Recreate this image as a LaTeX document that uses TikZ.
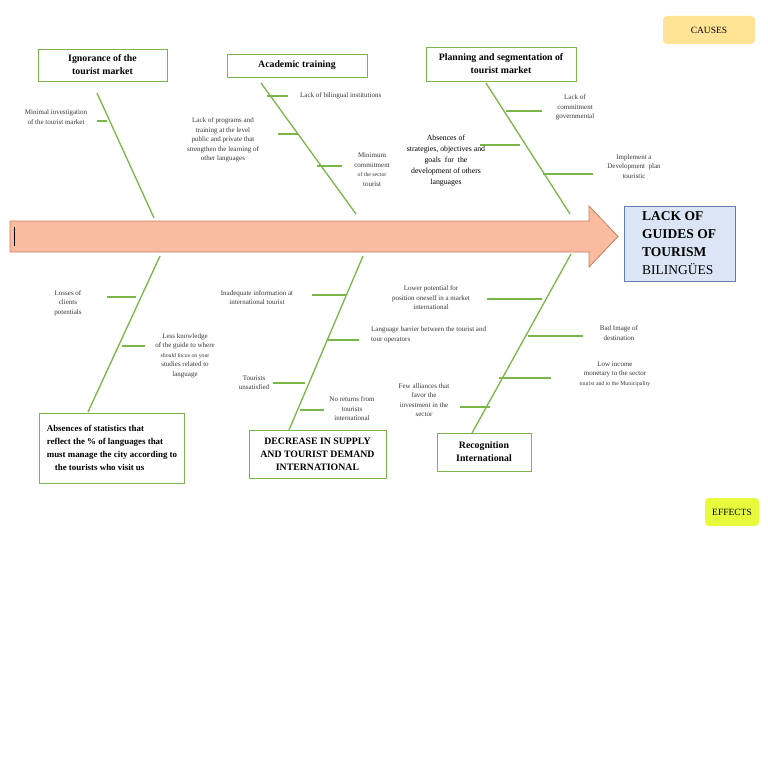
\documentclass[tikz,border=0pt]{standalone}
\usepackage{fontspec}
\setmainfont{Liberation Serif}

\begin{document}
\begin{tikzpicture}[x=1pt,y=-1pt,
  bone/.style={draw=kGreen,line width=1.3pt},
  tick/.style={draw=kGreen,line width=1.6pt},
  cause/.style={draw=kGreen,line width=0.9pt,align=center,inner sep=0pt,
                font=\fontsize{9.8}{13}\selectfont\bfseries},
  lbl/.style={align=center,inner sep=0pt,text=kText,font=\fontsize{7}{9.5}\selectfont},
  tag/.style={rounded corners=4pt,minimum width=#1,minimum height=28,inner sep=0pt,
              font=\fontsize{9.5}{11}\selectfont}]
  \definecolor{kGreen}{RGB}{122,182,72}
  \definecolor{kText}{RGB}{55,55,55}
  \definecolor{kSalmon}{RGB}{250,188,160}
  \definecolor{kSalmonD}{RGB}{205,125,95}
  \definecolor{kBlue}{RGB}{219,229,245}
  \definecolor{kBlueD}{RGB}{95,125,175}
  \definecolor{kCause}{RGB}{255,228,150}
  \definecolor{kEffect}{RGB}{232,250,60}

  \useasboundingbox[fill=white] (0,0) rectangle (768,762);

  % legend
  \node[tag=92,fill=kCause] (causes) at (709,30) {CAUSES};
  \node[tag=54,fill=kEffect] (effects) at (732,512) {EFFECTS};

  % spine
  \draw[fill=kSalmon,draw=kSalmonD,line width=0.8pt]
    (10,221) -- (589,221) -- (589,206) -- (618,236.5) -- (589,267) -- (589,252) -- (10,252) -- cycle;
  \draw[black,line width=1pt] (14,227) -- (14,246);

  % head
  \node[draw=kBlueD,fill=kBlue,line width=0.8pt,minimum width=111,minimum height=75] (head) at (679.5,243.5) {};
  \node[anchor=west,align=left,inner sep=0pt,font=\fontsize{13.5}{18}\selectfont] (headtxt) at (642,243.5)
    {\textbf{LACK OF}\\\textbf{GUIDES OF}\\\textbf{TOURISM}\\BILINGÜES};

  % causes
  \node[cause,minimum width=129,minimum height=32] (ign) at (102.5,65) {Ignorance of the\\tourist market};
  \node[cause,minimum width=140,minimum height=23] (acad) at (297,65.5) {Academic training};
  \node[cause,minimum width=150,minimum height=34] (plan) at (501,64) {Planning and segmentation of\\tourist market};

  % effects
  \node[cause,minimum width=145,minimum height=70,align=left,font=\fontsize{8.9}{13}\selectfont\bfseries] (stat) at (112,448)
    {Absences of statistics that\\reflect the \% of languages that\\must manage the city according to\\\hspace{8pt}the tourists who visit us};
  \node[cause,minimum width=137,minimum height=48] (decr) at (317.5,454)
    {DECREASE IN SUPPLY\\AND TOURIST DEMAND\\INTERNATIONAL};
  \node[cause,minimum width=94,minimum height=38] (recog) at (484,452) {Recognition\\International};

  % bones
  \coordinate (ignA) at (97,93);    \coordinate (ignB) at (154,218);
  \coordinate (acadA) at (261,83);  \coordinate (acadB) at (356,214);
  \coordinate (planA) at (486,83);  \coordinate (planB) at (570,214);
  \coordinate (statA) at (160,256); \coordinate (statB) at (88,412);
  \coordinate (decrA) at (363,256); \coordinate (decrB) at (289,430);
  \coordinate (recogA) at (571,254);\coordinate (recogB) at (472,433);
  \foreach \b in {ign,acad,plan,stat,decr,recog}
    \draw[bone] (\b A) -- (\b B);

  % ticks
  \foreach \xa/\xb/\y in { 97/107/121, 267/288/96, 278/298/134, 317/342/166,
                           506/542/111, 480/520/145, 543/593/174,
                           107/136/297, 122/145/346,
                           312/347/295, 327/359/340, 273/305/383, 300/324/410,
                           487/542/299, 528/583/336, 499/551/378, 460/490/407 }
  {
    \draw[tick] (\xa,\y) -- (\xb,\y);
  }

  % labels
  \node[lbl] (l1) at (56,117) {Minimal investigation\\of the tourist market};
  \node[lbl,anchor=west] (l2) at (300,95.5) {Lack of bilingual institutions};
  \node[lbl] (l3) at (223,140) {Lack of programs and\\training at the level\\public and private that\\strengthen the learning of\\other languages};
  \node[lbl] (l4) at (372,169.5) {Minimum\\commitment\\{\fontsize{5.8}{9.5}\selectfont of the sector}\\tourist};
  \node[lbl] (l5) at (575,107.5) {Lack of\\commitment\\governmental};
  \node[lbl,text=black,font=\fontsize{7.8}{11}\selectfont] (l6) at (446,161)
    {Absences of\\strategies, objectives and\\goals\enspace for\enspace the\\development of others\\languages};
  \node[lbl] (l7) at (634,166.5) {Implement a\\Development\enspace plan\\touristic};
  \node[lbl] (l8) at (68,303) {Losses of\\clients\\potentials};
  \node[lbl] (l9) at (185,355.5) {Less knowledge\\of the guide to where\\{\fontsize{5.8}{9.5}\selectfont should focus on your}\\studies related to\\language};
  \node[lbl] (l10) at (257,297.5) {Inadequate information at\\international tourist};
  \node[lbl,anchor=west,align=left] (l11) at (371,335) {Language barrier between the tourist and\\tour operators};
  \node[lbl] (l12) at (254,382.5) {Tourists\\unsatisfied};
  \node[lbl] (l13) at (352,409) {No returns from\\tourists\\international};
  \node[lbl] (l14) at (431,298) {Lower potential for\\position oneself in a market\\international};
  \node[lbl] (l15) at (619,333) {Bad Image of\\destination};
  \node[lbl] (l16) at (615,374) {Low income\\monetary to the sector\\{\fontsize{5.8}{9.5}\selectfont tourist and to the Municipality}};
  \node[lbl] (l17) at (424,400) {Few alliances that\\favor the\\investment in the\\sector};
\end{tikzpicture}
\end{document}
